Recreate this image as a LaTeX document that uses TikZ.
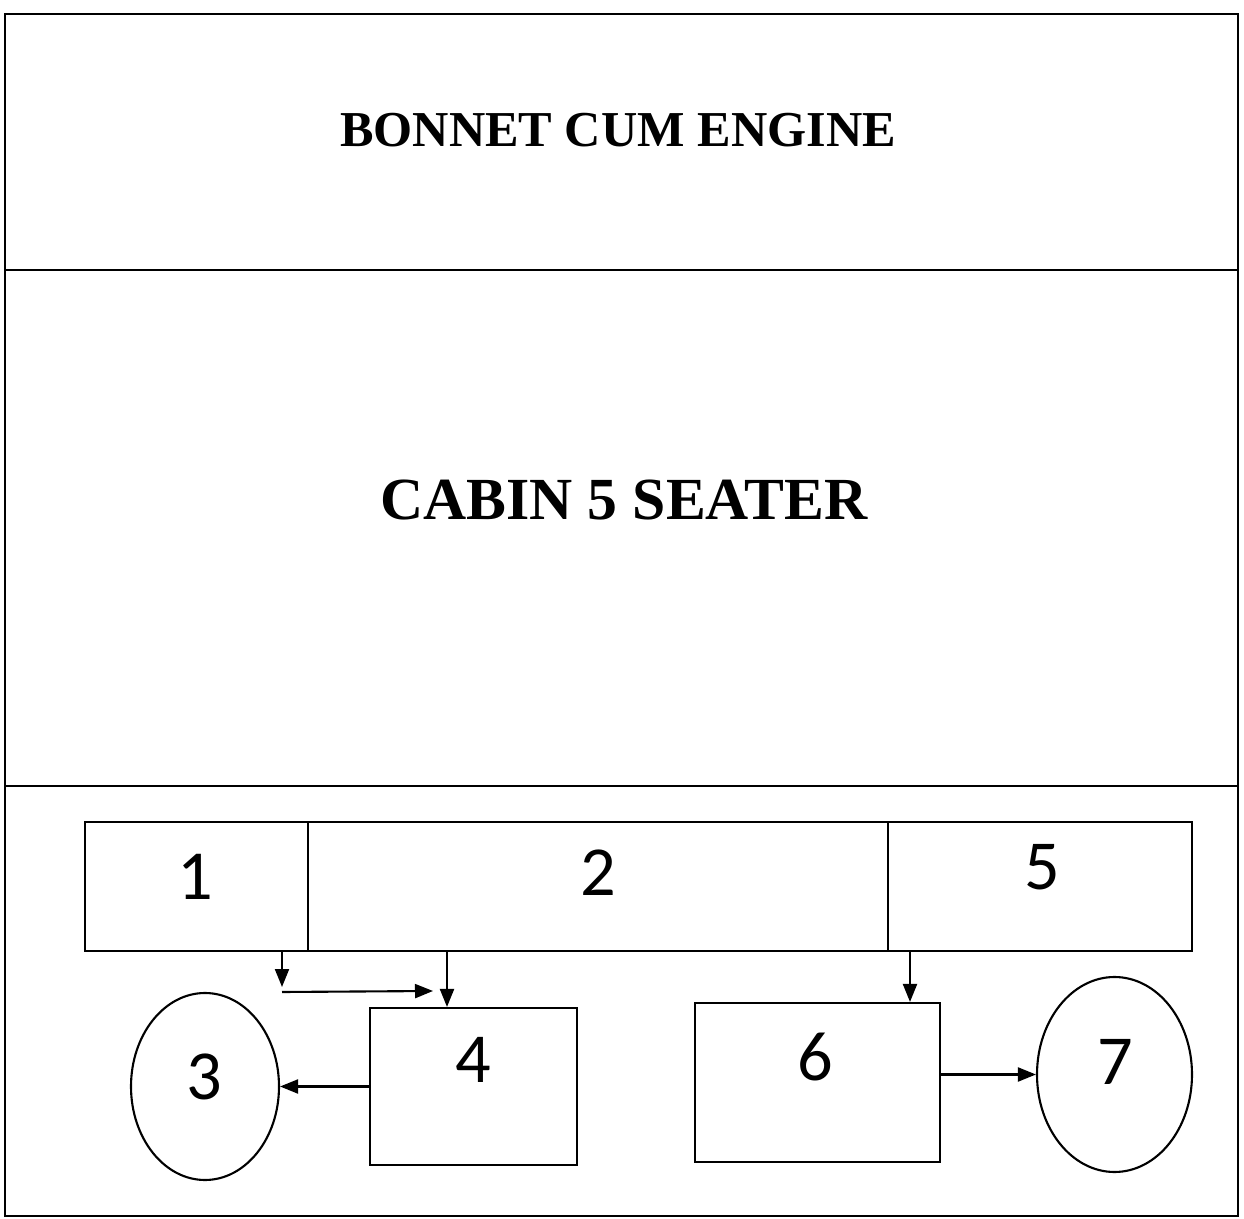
\documentclass[tikz,border=0pt]{standalone}
\usepackage{fontspec}
\setmainfont{Liberation Serif}
\newfontfamily\numfont{Carlito}
\usetikzlibrary{arrows.meta,shapes.geometric}

\begin{document}
\begin{tikzpicture}[
        line width=0.6pt,
        part/.style={rectangle, draw, inner sep=0pt},
        wheel/.style={ellipse, draw, inner sep=0pt},
        num/.style={font=\numfont\fontsize{20}{22}\selectfont},
        heading/.style={font=\bfseries\fontsize{#1}{20}\selectfont},
        arrow/.style={-{Triangle[length=1.8mm,width=1.4mm]}}
    ]
        \useasboundingbox (0,0) rectangle (12.44,-12.19);

        % Outer frame and sections
        \draw (0.05,-0.14) rectangle (12.38,-12.16);
        \draw (0.05,-2.70) -- (12.38,-2.70);
        \draw (0.05,-7.86) -- (12.38,-7.86);

        \node[heading=14.3] (bonnet) at (6.18,-1.30) {BONNET CUM ENGINE};
        \node[heading=17] (cabin) at (6.24,-5.00) {CABIN 5 SEATER};

        % Top strip
        \node[part, minimum width=2.23cm, minimum height=1.29cm] (b1) at (1.965,-8.865) {};
        \node[part, minimum width=5.80cm, minimum height=1.29cm] (b2) at (5.98,-8.865) {};
        \node[part, minimum width=3.04cm, minimum height=1.29cm] (b5) at (10.40,-8.865) {};
        \node[num] (n1) at (1.95,-8.77) {1};
        \node[num] (n2) at (5.98,-8.73) {2};
        \node[num] (n5) at (10.42,-8.67) {5};

        % Lower row
        \node[wheel, minimum width=1.48cm, minimum height=1.87cm] (e3) at (2.05,-10.865) {};
        \node[part, minimum width=2.07cm, minimum height=1.57cm] (b4) at (4.735,-10.865) {};
        \node[part, minimum width=2.45cm, minimum height=1.59cm] (b6) at (8.175,-10.825) {};
        \node[wheel, minimum width=1.55cm, minimum height=1.95cm] (e7) at (11.145,-10.745) {};
        \node[num] (n3) at (2.04,-10.77) {3};
        \node[num] (n4) at (4.73,-10.60) {4};
        \node[num] (n6) at (8.15,-10.57) {6};
        \node[num] (n7) at (11.15,-10.62) {7};

        % Arrows
        \coordinate (s1) at (2.82,-9.51);
        \coordinate (d1) at (2.82,-9.87);
        \coordinate (h0) at (2.82,-9.92);
        \coordinate (h1) at (4.33,-9.91);
        \coordinate (s4) at (4.47,-9.51);
        \coordinate (s6) at (9.10,-9.51);
        \draw[arrow] (s1) -- (d1);
        \draw[arrow] (h0) -- (h1);
        \draw[arrow] (s4) -- (s4 |- b4.north);
        \draw[arrow] (b4.west) -- (e3.east);
        \draw[arrow] (s6) -- (s6 |- b6.north);
        \draw[arrow] (b6.east |- e7.west) -- (e7.west);
    \end{tikzpicture}
\end{document}
